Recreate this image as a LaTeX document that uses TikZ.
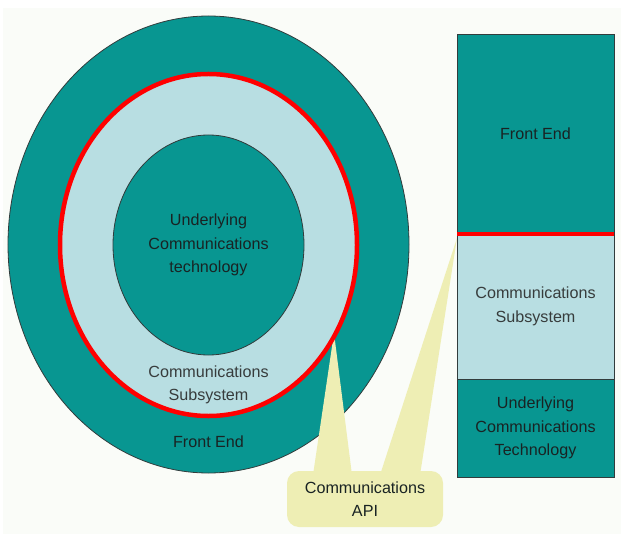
\documentclass[tikz,border=0pt]{standalone}
\usepackage{fontspec}
\setmainfont{Liberation Sans}
\usetikzlibrary{shapes.geometric}
\definecolor{tealA}{RGB}{8,150,145}
\definecolor{lightB}{RGB}{184,222,226}
\definecolor{calloutY}{RGB}{238,238,180}
\definecolor{bgC}{RGB}{250,252,248}
\definecolor{edgeC}{RGB}{50,60,60}
\definecolor{darkT}{RGB}{25,35,35}
\definecolor{grayT}{RGB}{55,60,60}
\begin{document}
\begin{tikzpicture}[x=1bp,y=-1bp,
  txt/.style={font=\fontsize{16.2}{23.5}\selectfont, align=center},
  ring/.style={ellipse, inner sep=0pt, outer sep=0pt},
  layer/.style={rectangle, draw=edgeC, line width=0.8bp, fill=tealA, minimum width=157bp, inner sep=0pt, outer sep=0pt, txt, text=darkT},
  apibox/.style={rectangle, rounded corners=12bp, fill=calloutY, minimum width=156bp, minimum height=56bp, inner sep=0pt, txt, text=darkT},
  redline/.style={draw=red, line width=4.5bp}]
\useasboundingbox (0,0) rectangle (621,534);
\fill[white] (0,0) rectangle (621,534);
\fill[bgC] (3,8) rectangle (621,534);

% concentric view
\node[ring, draw=edgeC, line width=0.8bp, fill=tealA, minimum width=401bp, minimum height=457bp] (outer) at (208.5,244.5) {};
% callout wedges (under the rings)
\coordinate (w1a) at (313,475);
\coordinate (w1b) at (352,475);
\coordinate (tip1) at (334,333);
\coordinate (w2a) at (380,475);
\coordinate (w2b) at (420,475);
\coordinate (tip2) at (457,238);
\fill[calloutY] (w1a) -- (tip1) -- (w1b) -- cycle;
\fill[calloutY] (w2a) -- (tip2) -- (w2b) -- cycle;

\node[ring, redline, fill=lightB, minimum width=297bp, minimum height=342bp] (comm) at (208.5,245) {};
\node[ring, draw=edgeC, line width=0.8bp, fill=tealA, minimum width=191bp, minimum height=220bp, txt, text=darkT] (inner) at (208.5,245) {Underlying\\Communications\\technology};
\node[txt, text=grayT] (commlbl) at (208.5,385) {Communications\\Subsystem};
\node[txt, text=darkT] (frontlbl) at (208.5,442) {Front End};

% layered view
\node[layer, minimum height=200bp] (front) at (535.5,134) {Front End};
\node[layer, fill=lightB, text=grayT, minimum height=145bp] (sub) at (535.5,306.5) {Communications\\Subsystem};
\node[layer, minimum height=98bp] (under) at (535.5,428) {Underlying\\Communications\\Technology};
\draw[redline] (front.south west) -- (front.south east);

% callout box
\node[apibox] (api) at (365,499) {Communications\\API};
\end{tikzpicture}
\end{document}
